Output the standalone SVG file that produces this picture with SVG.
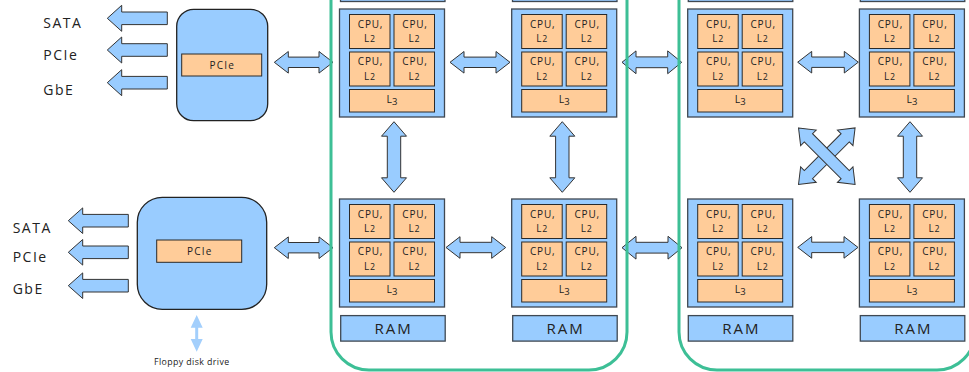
<svg xmlns="http://www.w3.org/2000/svg" xmlns:xlink="http://www.w3.org/1999/xlink" width="969" height="372" viewBox="0 0 969 372">
  <style>
    text { font-family: "Open Sans", "DejaVu Sans", sans-serif; fill: #222; }
    .pkg { fill: #99ccff; stroke: #3f4852; stroke-width: 1.3; }
    .cell { fill: #ffcc99; stroke: #2a2a2a; stroke-width: 1; }
    .ram { fill: #99ccff; stroke: #3f4852; stroke-width: 1.3; }
    .hub { fill: #99ccff; stroke: #222; stroke-width: 1.3; }
    .arrow { fill: #99ccff; stroke: #333; stroke-width: 1; stroke-linejoin: miter; }
    .soft { fill: #a3cffc; stroke: none; }
    .node-box { fill: none; stroke: #3dbf96; stroke-width: 3; }
    .cpu { font-size: 10px; letter-spacing: 0.8px; text-anchor: middle; }
    .l3 { font-size: 10.5px; text-anchor: middle; }
    .io { font-size: 14px; letter-spacing: 1.5px; }
    .ramt { font-size: 15px; letter-spacing: 2px; text-anchor: middle; }
    .bus { font-size: 10px; letter-spacing: 1.2px; text-anchor: middle; }
    .small { font-size: 8.8px; letter-spacing: 0.4px; text-anchor: middle; }
  </style>
  <defs>
    <!-- one processor package: four cores with private L2 and a shared L3 -->
    <g id="pkg-tpl">
      <rect class="pkg" x="0" y="0" width="105" height="108"/>
      <rect class="cell" x="10" y="5.5" width="40.5" height="34"/>
      <rect class="cell" x="54.5" y="5.5" width="40.5" height="34"/>
      <rect class="cell" x="10" y="43" width="40.5" height="34"/>
      <rect class="cell" x="54.5" y="43" width="40.5" height="34"/>
      <rect class="cell" x="10" y="80.5" width="85" height="22.5"/>
      <text class="cpu" x="31" y="18.8">CPU,</text>
      <text class="cpu" x="30.5" y="33.3">L<tspan font-size="8.8">2</tspan></text>
      <text class="cpu" x="75.5" y="18.8">CPU,</text>
      <text class="cpu" x="75" y="33.3">L<tspan font-size="8.8">2</tspan></text>
      <text class="cpu" x="31" y="56.3">CPU,</text>
      <text class="cpu" x="30.5" y="70.8">L<tspan font-size="8.8">2</tspan></text>
      <text class="cpu" x="75.5" y="56.3">CPU,</text>
      <text class="cpu" x="75" y="70.8">L<tspan font-size="8.8">2</tspan></text>
      <text class="l3" x="52.5" y="94.3">L<tspan font-size="9.5" dy="2">3</tspan></text>
    </g>
    <g id="ram-tpl">
      <rect class="ram" x="0" y="0" width="104.5" height="25.5"/>
      <text class="ramt" x="53" y="18.2">RAM</text>
    </g>
  </defs>

  <!-- connectors -->
  <g id="connectors">
    <!-- I/O hub to socket links -->
    <path class="arrow" d="M274.3,62.3 L288.3,51.5 L288.3,57.1 L319,57.1 L319,51.5 L333,62.3 L319,73.1 L319,67.5 L288.3,67.5 L288.3,73.1 Z"/>
    <path class="arrow" d="M274.3,247.7 L288.3,236.9 L288.3,242.5 L319,242.5 L319,236.9 L333,247.7 L319,258.5 L319,252.9 L288.3,252.9 L288.3,258.5 Z"/>
    <!-- socket to socket, horizontal -->
    <path class="arrow" d="M450,62.3 L464,51.5 L464,57.1 L496,57.1 L496,51.5 L510,62.3 L496,73.1 L496,67.5 L464,67.5 L464,73.1 Z"/>
    <path class="arrow" d="M446,247.5 L460,236.7 L460,242.3 L491.7,242.3 L491.7,236.7 L505.7,247.5 L491.7,258.3 L491.7,252.7 L460,252.7 L460,258.3 Z"/>
    <path class="arrow" d="M622,62.3 L636,50.9 L636,56.9 L667.7,56.9 L667.7,50.9 L681.7,62.3 L667.7,73.7 L667.7,67.7 L636,67.7 L636,73.7 Z"/>
    <path class="arrow" d="M622,247.7 L636,236.3 L636,242.3 L668,242.3 L668,236.3 L682,247.7 L668,259.1 L668,253.1 L636,253.1 L636,259.1 Z"/>
    <path class="arrow" d="M797.7,62.2 L811.7,51.4 L811.7,57 L844.3,57 L844.3,51.4 L858.3,62.2 L844.3,73 L844.3,67.4 L811.7,67.4 L811.7,73 Z"/>
    <path class="arrow" d="M797.7,247.4 L811.7,236.6 L811.7,242.2 L844,242.2 L844,236.6 L858,247.4 L844,258.2 L844,252.6 L811.7,252.6 L811.7,258.2 Z"/>
    <!-- socket to socket, vertical -->
    <path class="arrow" d="M394,121.7 L406.5,136.2 L400.7,136.2 L400.7,177.8 L406.5,177.8 L394,192.3 L381.5,177.8 L387.3,177.8 L387.3,136.2 L381.5,136.2 Z"/>
    <path class="arrow" d="M562.3,121.7 L574.8,136.2 L569,136.2 L569,177.8 L574.8,177.8 L562.3,192.3 L549.8,177.8 L555.6,177.8 L555.6,136.2 L549.8,136.2 Z"/>
    <path class="arrow" d="M910,121.7 L922.5,136.2 L916.7,136.2 L916.7,177.8 L922.5,177.8 L910,192.3 L897.5,177.8 L903.3,177.8 L903.3,136.2 L897.5,136.2 Z"/>
    <!-- diagonal cross links -->
    <g transform="translate(826.8,156.2) rotate(-45)">
      <path class="arrow" d="M-40,0 L-26,-11 L-26,-5.8 L26,-5.8 L26,-11 L40,0 L26,11 L26,5.8 L-26,5.8 L-26,11 Z"/>
    </g>
    <g transform="translate(826.8,156.2) rotate(45)">
      <path class="arrow" d="M-40,0 L-26,-11 L-26,-5.8 L26,-5.8 L26,-11 L40,0 L26,11 L26,5.8 L-26,5.8 L-26,11 Z"/>
    </g>
    <!-- I/O outputs -->
    <path class="arrow" d="M107.3,18.3 L121.7,5.3 L121.7,12 L167.3,12 L167.3,24.6 L121.7,24.6 L121.7,31.3 Z"/>
    <path class="arrow" d="M107.3,50 L121.7,37 L121.7,43.7 L167.3,43.7 L167.3,56.3 L121.7,56.3 L121.7,63 Z"/>
    <path class="arrow" d="M107.3,82.7 L121.7,69.7 L121.7,76.4 L167.3,76.4 L167.3,89 L121.7,89 L121.7,95.7 Z"/>
    <path class="arrow" d="M68.3,220.7 L82.7,207.9 L82.7,214.4 L128.3,214.4 L128.3,227 L82.7,227 L82.7,233.5 Z"/>
    <path class="arrow" d="M68.3,252.3 L82.7,239.5 L82.7,246 L128.3,246 L128.3,258.6 L82.7,258.6 L82.7,265.1 Z"/>
    <path class="arrow" d="M68.3,285.7 L82.7,272.9 L82.7,279.4 L128.3,279.4 L128.3,292 L82.7,292 L82.7,298.5 Z"/>
    <!-- floppy link -->
    <path class="soft" d="M196.7,315 L202.7,327.7 L198.2,327.7 L198.2,339 L202.7,339 L196.7,351.7 L190.7,339 L195.2,339 L195.2,327.7 L190.7,327.7 Z"/>
  </g>

  <!-- I/O hubs -->
  <g id="hub-top">
    <rect class="hub" x="176.7" y="9.3" width="91" height="111.4" rx="17" ry="17"/>
    <rect class="cell" x="181.7" y="54" width="80" height="22"/>
    <text class="bus" x="222.3" y="69">PCIe</text>
  </g>
  <g id="hub-bottom">
    <rect class="hub" x="137.3" y="197.3" width="129.4" height="112" rx="25" ry="25"/>
    <rect class="cell" x="156.7" y="240" width="85" height="22.3"/>
    <text class="bus" x="199.8" y="255.3">PCIe</text>
  </g>

  <!-- I/O labels -->
  <g id="io-labels">
    <text class="io" x="43.3" y="27.5">SATA</text>
    <text class="io" x="43.3" y="60">PCIe</text>
    <text class="io" x="43.3" y="94.5">GbE</text>
    <text class="io" x="12.7" y="233.3">SATA</text>
    <text class="io" x="12.7" y="261.7">PCIe</text>
    <text class="io" x="12.7" y="294.3">GbE</text>
    <text class="small" x="191.8" y="365">Floppy disk drive</text>
  </g>

  <!-- memory of the row above, cut at the top edge -->
  <g id="ram-above">
    <rect class="ram" x="340.5" y="-24" width="104.5" height="25.5"/>
    <rect class="ram" x="512.5" y="-24" width="104.5" height="25.5"/>
    <rect class="ram" x="688.3" y="-24" width="104.5" height="25.5"/>
    <rect class="ram" x="860.3" y="-24" width="104.5" height="25.5"/>
  </g>

  <!-- processor packages -->
  <g id="pkg-1"><use xlink:href="#pkg-tpl" x="339.5" y="9"/></g>
  <g id="pkg-2"><use xlink:href="#pkg-tpl" x="511.7" y="9"/></g>
  <g id="pkg-3"><use xlink:href="#pkg-tpl" x="687.7" y="9"/></g>
  <g id="pkg-4"><use xlink:href="#pkg-tpl" x="859.4" y="9"/></g>
  <g id="pkg-5"><use xlink:href="#pkg-tpl" x="339.5" y="199"/></g>
  <g id="pkg-6"><use xlink:href="#pkg-tpl" x="511.7" y="199"/></g>
  <g id="pkg-7"><use xlink:href="#pkg-tpl" x="687.7" y="199"/></g>
  <g id="pkg-8"><use xlink:href="#pkg-tpl" x="859.4" y="199"/></g>

  <!-- local memory -->
  <g id="ram-1"><use xlink:href="#ram-tpl" x="340.7" y="315.6"/></g>
  <g id="ram-2"><use xlink:href="#ram-tpl" x="512.7" y="315.6"/></g>
  <g id="ram-3"><use xlink:href="#ram-tpl" x="688.3" y="315.6"/></g>
  <g id="ram-4"><use xlink:href="#ram-tpl" x="860.3" y="315.6"/></g>

  <!-- board outlines -->
  <g id="board-1"><rect class="node-box" x="331" y="-100" width="296" height="470" rx="38" ry="38"/></g>
  <g id="board-2"><rect class="node-box" x="679" y="-100" width="296" height="470" rx="38" ry="38"/></g>
</svg>
